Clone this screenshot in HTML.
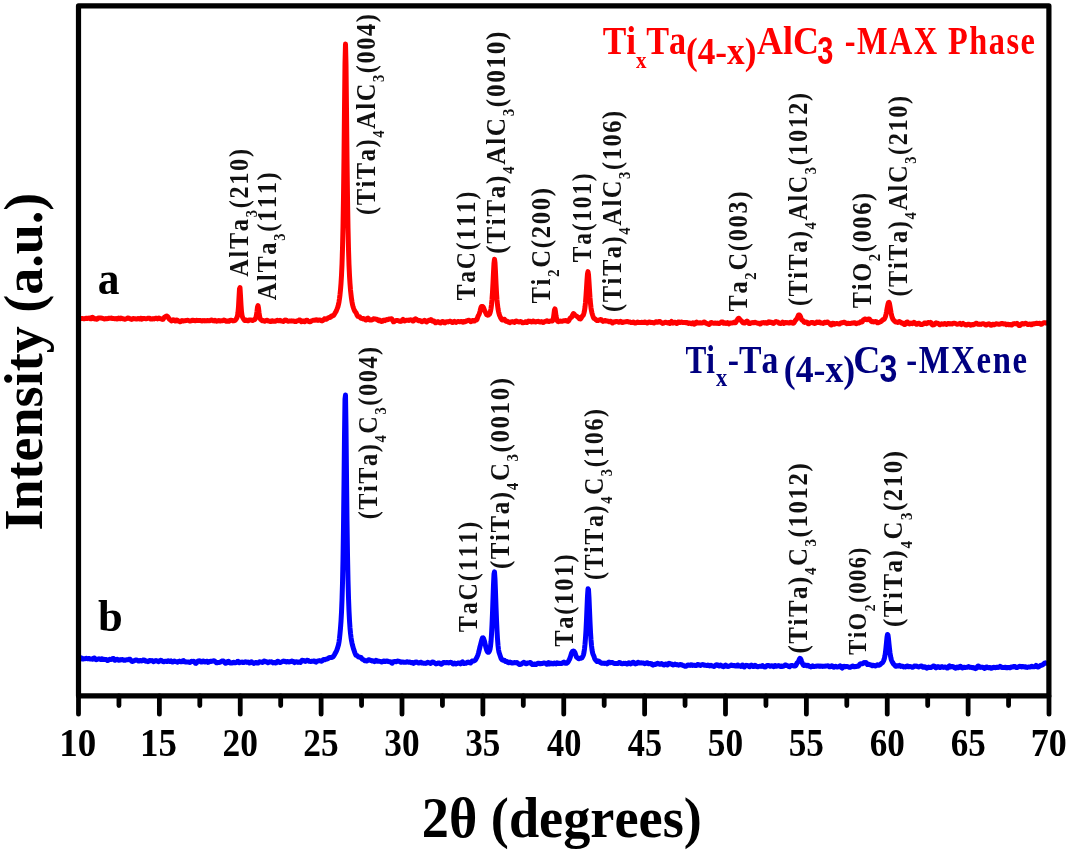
<!DOCTYPE html>
<html><head><meta charset="utf-8"><style>
html,body{margin:0;padding:0;background:#fff;}
svg{display:block;will-change:transform;}
text{font-kerning:none;}
</style></head><body>
<svg width="1068" height="853" viewBox="0 0 1068 853" font-family="&quot;Liberation Serif&quot;, serif" font-weight="bold">
<rect width="1068" height="853" fill="#fff"/>
<path d="M80.0,318.7 L80.5,318.7 81.0,318.5 81.5,318.4 82.0,318.5 82.5,318.6 83.0,318.6 83.5,318.7 84.0,318.7 84.5,318.8 85.0,318.6 85.5,318.5 86.0,318.2 86.5,318.2 87.0,318.3 87.5,318.5 88.0,318.4 88.5,318.2 89.0,318.0 89.5,318.1 90.0,318.4 90.5,318.8 91.0,318.8 91.5,318.2 92.0,317.4 92.5,317.2 93.0,317.6 93.5,318.1 94.0,318.7 94.5,318.9 95.0,319.0 95.5,318.8 96.0,318.9 96.5,319.2 97.0,319.3 97.5,318.8 98.0,318.2 98.5,317.9 99.0,318.0 99.5,318.0 100.0,318.0 100.5,317.9 101.0,318.0 101.5,318.1 102.0,318.3 102.5,318.4 103.0,318.5 103.5,318.6 104.0,318.9 104.5,318.9 105.0,318.9 105.5,318.6 106.0,318.7 106.5,318.6 107.0,318.7 107.5,318.6 108.0,318.6 108.5,318.3 109.0,318.2 109.5,318.2 110.0,318.3 110.5,318.3 111.0,318.1 111.5,318.0 112.0,318.2 112.5,318.5 113.0,318.6 113.5,318.5 114.0,318.5 114.5,318.7 115.0,318.8 115.5,318.8 116.0,318.6 116.5,318.9 117.0,319.0 117.5,318.9 118.0,318.4 118.5,318.1 119.0,318.2 119.5,318.5 120.0,318.7 120.5,318.3 121.0,318.1 121.5,318.2 122.0,318.6 122.5,318.8 123.0,318.8 123.5,318.8 124.0,319.0 124.5,319.2 125.0,319.2 125.5,319.0 126.0,318.9 126.5,318.6 127.0,318.5 127.5,318.1 128.0,318.1 128.5,318.1 129.0,318.2 129.5,318.5 130.0,318.6 130.5,319.0 131.0,319.1 131.5,319.4 132.0,319.3 132.5,318.9 133.0,318.5 133.5,318.5 134.0,318.8 134.5,318.8 135.0,318.7 135.5,318.7 136.0,318.9 136.5,319.1 137.0,318.9 137.5,318.8 138.0,318.5 138.5,318.6 139.0,318.8 139.5,319.0 140.0,318.7 140.5,318.2 141.0,318.2 141.5,318.8 142.0,319.2 142.5,318.9 143.0,318.5 143.5,318.4 144.0,318.4 144.5,318.5 145.0,318.6 145.5,318.8 146.0,318.8 146.5,318.8 147.0,318.6 147.5,318.3 148.0,318.3 148.5,318.2 149.0,318.2 149.5,318.2 150.0,318.5 150.5,319.0 151.0,319.1 151.5,319.1 152.0,318.9 152.5,318.8 153.0,318.9 153.5,318.8 154.0,318.9 154.5,318.7 155.0,318.6 155.5,318.3 156.0,318.2 156.5,318.3 157.0,318.6 157.5,318.9 158.0,318.5 158.5,318.3 159.0,318.0 159.5,318.4 160.0,318.7 160.5,318.7 161.0,318.7 161.5,318.9 162.0,319.3 162.5,319.4 163.0,319.3 163.5,318.5 164.0,317.8 164.5,317.2 165.0,316.9 165.5,316.6 166.0,316.2 166.5,316.1 167.0,316.1 167.5,316.5 168.0,317.0 168.5,317.8 169.0,318.7 169.5,319.5 170.0,319.7 170.5,320.0 171.0,320.4 171.5,320.9 172.0,320.7 172.5,320.3 173.0,319.8 173.5,319.9 174.0,320.0 174.5,320.5 175.0,320.9 175.5,321.1 176.0,320.8 176.5,320.1 177.0,320.1 177.5,320.3 178.0,321.0 178.5,321.0 179.0,321.2 179.5,321.3 180.0,321.7 180.5,321.7 181.0,321.2 181.5,320.9 182.0,320.5 182.5,320.7 183.0,320.7 183.5,321.0 184.0,320.9 184.5,320.8 185.0,320.7 185.5,320.6 186.0,320.6 186.5,320.4 187.0,320.4 187.5,320.3 188.0,320.4 188.5,320.5 189.0,320.7 189.5,320.9 190.0,320.9 190.5,321.0 191.0,320.8 191.5,320.7 192.0,320.3 192.5,320.3 193.0,320.3 193.5,320.4 194.0,320.4 194.5,320.6 195.0,320.8 195.5,320.7 196.0,320.5 196.5,320.3 197.0,320.4 197.5,320.6 198.0,320.6 198.5,320.6 199.0,320.4 199.5,320.4 200.0,320.6 200.5,320.6 201.0,320.8 201.5,320.7 202.0,320.9 202.5,320.7 203.0,320.5 203.5,320.7 204.0,320.8 204.5,320.9 205.0,320.8 205.5,320.8 206.0,320.9 206.5,320.8 207.0,320.8 207.5,320.6 208.0,320.6 208.5,320.8 209.0,320.8 209.5,320.8 210.0,320.5 210.5,320.3 211.0,320.1 211.5,320.0 212.0,320.1 212.5,320.3 213.0,320.7 213.5,320.8 214.0,320.9 214.5,320.7 215.0,320.3 215.5,320.5 216.0,320.7 216.5,321.2 217.0,321.0 217.5,321.0 218.0,320.7 218.5,320.6 219.0,320.6 219.5,320.8 220.0,321.0 220.5,321.0 221.0,320.8 221.5,320.7 222.0,320.7 222.5,320.8 223.0,320.6 223.5,320.3 224.0,320.0 224.5,320.2 225.0,320.5 225.5,321.0 226.0,321.2 226.5,321.3 227.0,321.0 227.5,320.9 228.0,320.9 228.5,321.2 229.0,321.3 229.5,320.9 230.0,320.5 230.5,320.2 231.0,320.2 231.5,320.2 232.0,320.4 232.5,320.6 233.0,320.9 233.5,320.8 234.0,320.7 234.5,320.6 235.0,320.3 235.5,320.0 236.0,319.2 236.5,318.5 237.0,317.4 237.5,315.9 238.0,312.4 238.5,306.6 239.0,297.7 239.5,289.0 240.0,287.7 240.5,295.8 241.0,305.0 241.5,311.7 242.0,315.3 242.5,317.1 243.0,318.0 243.5,318.8 244.0,319.6 244.5,320.3 245.0,320.6 245.5,320.5 246.0,320.3 246.5,320.1 247.0,320.4 247.5,320.7 248.0,320.8 248.5,320.7 249.0,320.1 249.5,320.1 250.0,319.9 250.5,320.1 251.0,319.9 251.5,320.2 252.0,320.4 252.5,320.5 253.0,320.2 253.5,320.0 254.0,319.9 254.5,319.7 255.0,319.2 255.5,318.4 256.0,317.2 256.5,314.8 257.0,311.3 257.5,307.0 258.0,305.6 258.5,308.1 259.0,312.4 259.5,315.9 260.0,318.2 260.5,319.3 261.0,319.7 261.5,320.0 262.0,320.5 262.5,320.8 263.0,320.7 263.5,320.6 264.0,321.0 264.5,321.2 265.0,321.2 265.5,320.7 266.0,320.5 266.5,320.4 267.0,320.3 267.5,320.4 268.0,320.7 268.5,321.1 269.0,321.0 269.5,321.2 270.0,321.3 270.5,321.6 271.0,321.4 271.5,321.2 272.0,320.7 272.5,320.8 273.0,321.0 273.5,321.3 274.0,321.2 274.5,321.1 275.0,321.2 275.5,321.2 276.0,321.0 276.5,320.6 277.0,320.4 277.5,320.3 278.0,320.5 278.5,320.7 279.0,320.7 279.5,320.6 280.0,320.3 280.5,320.6 281.0,320.7 281.5,321.1 282.0,321.0 282.5,321.2 283.0,321.4 283.5,321.5 284.0,321.0 284.5,320.4 285.0,320.0 285.5,320.2 286.0,320.1 286.5,320.4 287.0,320.6 287.5,321.0 288.0,321.2 288.5,321.2 289.0,321.1 289.5,321.0 290.0,320.9 290.5,320.9 291.0,321.0 291.5,321.1 292.0,321.1 292.5,321.0 293.0,321.0 293.5,320.9 294.0,321.2 294.5,321.3 295.0,321.6 295.5,321.5 296.0,321.5 296.5,321.1 297.0,320.9 297.5,320.7 298.0,320.7 298.5,320.5 299.0,320.1 299.5,319.9 300.0,320.1 300.5,320.7 301.0,321.3 301.5,321.7 302.0,321.5 302.5,321.1 303.0,320.9 303.5,321.1 304.0,321.6 304.5,321.8 305.0,321.5 305.5,321.0 306.0,320.5 306.5,320.2 307.0,320.2 307.5,320.5 308.0,321.0 308.5,321.4 309.0,321.6 309.5,321.7 310.0,321.7 310.5,321.6 311.0,321.4 311.5,321.0 312.0,320.7 312.5,320.5 313.0,320.3 313.5,320.3 314.0,320.3 314.5,320.3 315.0,320.2 315.5,319.9 316.0,319.7 316.5,319.7 317.0,320.0 317.5,320.3 318.0,320.4 318.5,320.3 319.0,320.1 319.5,319.9 320.0,319.9 320.5,320.2 321.0,320.6 321.5,320.8 322.0,320.9 322.5,320.6 323.0,320.4 323.5,320.0 324.0,319.4 324.5,318.8 325.0,318.7 325.5,319.0 326.0,319.3 326.5,319.2 327.0,318.9 327.5,318.3 328.0,318.0 328.5,317.6 329.0,317.5 329.5,317.6 330.0,317.5 330.5,317.3 331.0,316.5 331.5,316.2 332.0,315.8 332.5,315.9 333.0,315.7 333.5,315.5 334.0,314.8 334.5,314.0 335.0,313.1 335.5,312.3 336.0,311.6 336.5,310.3 337.0,309.1 337.5,307.8 338.0,306.5 338.5,304.4 339.0,301.9 339.5,298.6 340.0,294.6 340.5,289.7 341.0,283.5 341.5,275.4 342.0,264.3 342.5,248.7 343.0,227.1 343.5,197.4 344.0,157.3 344.5,108.7 345.0,63.3 345.5,44.0 346.0,64.3 346.5,109.9 347.0,158.0 347.5,197.6 348.0,227.4 348.5,249.2 349.0,264.6 349.5,275.7 350.0,283.6 350.5,289.9 351.0,294.6 351.5,298.7 352.0,301.9 352.5,304.6 353.0,306.4 353.5,308.0 354.0,309.4 354.5,310.6 355.0,311.4 355.5,311.9 356.0,312.6 356.5,313.7 357.0,315.0 357.5,315.9 358.0,316.4 358.5,316.5 359.0,316.5 359.5,316.8 360.0,317.2 360.5,317.9 361.0,318.3 361.5,318.4 362.0,318.2 362.5,318.4 363.0,318.7 363.5,319.0 364.0,318.7 364.5,318.7 365.0,319.2 365.5,319.9 366.0,320.1 366.5,319.7 367.0,319.0 367.5,318.2 368.0,318.1 368.5,318.5 369.0,319.2 369.5,319.8 370.0,320.1 370.5,320.1 371.0,320.1 371.5,320.0 372.0,319.9 372.5,319.6 373.0,319.1 373.5,318.8 374.0,318.7 374.5,318.9 375.0,318.9 375.5,319.1 376.0,319.2 376.5,319.3 377.0,319.2 377.5,319.7 378.0,320.2 378.5,320.6 379.0,320.3 379.5,320.0 380.0,320.2 380.5,320.8 381.0,321.4 381.5,321.5 382.0,321.4 382.5,321.3 383.0,320.8 383.5,320.2 384.0,320.1 384.5,320.3 385.0,320.6 385.5,320.2 386.0,319.9 386.5,319.6 387.0,319.8 387.5,319.8 388.0,319.6 388.5,319.3 389.0,319.0 389.5,319.0 390.0,319.0 390.5,318.9 391.0,318.7 391.5,318.8 392.0,319.2 392.5,320.1 393.0,321.0 393.5,321.8 394.0,321.7 394.5,321.5 395.0,320.9 395.5,320.7 396.0,320.5 396.5,320.5 397.0,320.5 397.5,320.5 398.0,320.6 398.5,320.7 399.0,321.1 399.5,321.2 400.0,321.3 400.5,321.4 401.0,321.3 401.5,321.0 402.0,320.4 402.5,319.8 403.0,319.4 403.5,319.8 404.0,320.4 404.5,321.0 405.0,320.9 405.5,320.6 406.0,320.3 406.5,320.3 407.0,320.2 407.5,320.2 408.0,320.3 408.5,320.4 409.0,320.5 409.5,320.0 410.0,320.0 410.5,319.8 411.0,320.0 411.5,319.9 412.0,320.1 412.5,320.5 413.0,321.1 413.5,321.0 414.0,320.4 414.5,319.6 415.0,319.0 415.5,318.8 416.0,319.0 416.5,319.4 417.0,319.8 417.5,320.3 418.0,320.5 418.5,320.7 419.0,320.6 419.5,320.8 420.0,320.6 420.5,320.9 421.0,321.0 421.5,321.6 422.0,321.7 422.5,321.6 423.0,321.2 423.5,320.9 424.0,320.5 424.5,320.3 425.0,320.7 425.5,321.3 426.0,321.8 426.5,322.0 427.0,321.6 427.5,321.3 428.0,320.8 428.5,320.4 429.0,320.3 429.5,320.6 430.0,320.5 430.5,320.1 431.0,319.6 431.5,319.9 432.0,320.6 432.5,321.2 433.0,321.0 433.5,321.0 434.0,321.0 434.5,321.8 435.0,322.2 435.5,322.8 436.0,322.7 436.5,322.5 437.0,321.9 437.5,321.7 438.0,321.6 438.5,321.9 439.0,322.2 439.5,322.7 440.0,322.9 440.5,323.0 441.0,322.6 441.5,322.3 442.0,321.7 442.5,321.4 443.0,321.4 443.5,321.8 444.0,322.5 444.5,322.8 445.0,322.9 445.5,322.5 446.0,322.0 446.5,321.7 447.0,321.7 447.5,321.8 448.0,321.9 448.5,321.7 449.0,321.6 449.5,321.3 450.0,321.4 450.5,321.3 451.0,321.5 451.5,321.7 452.0,322.3 452.5,322.6 453.0,322.6 453.5,322.1 454.0,321.5 454.5,321.3 455.0,321.6 455.5,322.1 456.0,322.4 456.5,322.2 457.0,321.9 457.5,321.6 458.0,321.5 458.5,321.5 459.0,321.6 459.5,321.7 460.0,321.7 460.5,321.6 461.0,321.5 461.5,321.5 462.0,321.6 462.5,322.1 463.0,322.3 463.5,322.1 464.0,321.5 464.5,321.4 465.0,321.7 465.5,321.7 466.0,321.4 466.5,320.9 467.0,320.7 467.5,320.5 468.0,320.5 468.5,320.2 469.0,320.3 469.5,320.5 470.0,321.1 470.5,321.6 471.0,321.7 471.5,321.4 472.0,320.7 472.5,320.5 473.0,320.4 473.5,321.0 474.0,321.1 474.5,321.0 475.0,320.3 475.5,320.1 476.0,320.1 476.5,320.1 477.0,319.4 477.5,317.8 478.0,316.4 478.5,315.3 479.0,314.5 479.5,313.2 480.0,311.3 480.5,309.2 481.0,307.4 481.5,306.5 482.0,306.4 482.5,306.5 483.0,306.8 483.5,307.6 484.0,308.9 484.5,310.3 485.0,311.3 485.5,312.3 486.0,313.3 486.5,314.4 487.0,314.9 487.5,315.2 488.0,315.1 488.5,315.0 489.0,314.6 489.5,314.1 490.0,313.0 490.5,311.3 491.0,308.6 491.5,304.8 492.0,299.4 492.5,292.1 493.0,282.8 493.5,272.4 494.0,263.2 494.5,259.2 495.0,262.9 495.5,272.1 496.0,283.1 496.5,292.6 497.0,299.9 497.5,304.9 498.0,308.8 498.5,311.5 499.0,313.6 499.5,315.2 500.0,316.4 500.5,317.6 501.0,318.4 501.5,319.2 502.0,319.8 502.5,320.1 503.0,320.0 503.5,319.5 504.0,319.2 504.5,319.2 505.0,320.0 505.5,320.8 506.0,321.3 506.5,321.4 507.0,321.2 507.5,321.3 508.0,321.6 508.5,321.9 509.0,322.4 509.5,322.5 510.0,322.7 510.5,322.1 511.0,321.9 511.5,321.7 512.0,321.8 512.5,321.9 513.0,321.8 513.5,322.1 514.0,322.3 514.5,322.5 515.0,322.0 515.5,321.3 516.0,320.9 516.5,320.9 517.0,321.4 517.5,321.6 518.0,321.7 518.5,321.7 519.0,321.9 519.5,321.9 520.0,321.6 520.5,321.5 521.0,321.6 521.5,321.9 522.0,322.3 522.5,322.7 523.0,322.7 523.5,322.7 524.0,322.4 524.5,322.5 525.0,322.2 525.5,321.8 526.0,321.7 526.5,322.0 527.0,322.5 527.5,322.1 528.0,321.7 528.5,321.1 529.0,321.2 529.5,321.2 530.0,321.3 530.5,321.5 531.0,321.9 531.5,322.0 532.0,321.9 532.5,321.3 533.0,321.1 533.5,321.1 534.0,321.5 534.5,321.8 535.0,321.9 535.5,322.0 536.0,321.7 536.5,321.6 537.0,321.5 537.5,321.6 538.0,321.3 538.5,321.4 539.0,321.4 539.5,321.9 540.0,322.0 540.5,321.9 541.0,321.7 541.5,321.6 542.0,321.9 542.5,322.3 543.0,322.5 543.5,322.4 544.0,321.9 544.5,321.6 545.0,321.5 545.5,321.4 546.0,321.2 546.5,320.9 547.0,320.8 547.5,320.9 548.0,321.4 548.5,321.5 549.0,321.6 549.5,321.2 550.0,321.2 550.5,320.9 551.0,320.9 551.5,320.9 552.0,321.1 552.5,320.8 553.0,319.8 553.5,317.6 554.0,313.9 554.5,309.9 555.0,308.9 555.5,312.0 556.0,315.8 556.5,318.6 557.0,320.2 557.5,321.1 558.0,321.5 558.5,321.7 559.0,321.4 559.5,321.3 560.0,321.1 560.5,321.1 561.0,321.2 561.5,321.2 562.0,321.3 562.5,320.9 563.0,320.9 563.5,320.7 564.0,320.7 564.5,320.7 565.0,320.6 565.5,320.6 566.0,320.5 566.5,320.7 567.0,321.1 567.5,321.3 568.0,321.4 568.5,321.0 569.0,320.4 569.5,319.2 570.0,318.4 570.5,317.8 571.0,317.6 571.5,317.2 572.0,316.5 572.5,315.4 573.0,314.2 573.5,313.5 574.0,313.7 574.5,314.5 575.0,315.1 575.5,315.5 576.0,315.7 576.5,316.1 577.0,316.4 577.5,316.8 578.0,317.0 578.5,317.7 579.0,318.2 579.5,318.8 580.0,318.9 580.5,319.0 581.0,318.4 581.5,317.5 582.0,316.6 582.5,316.1 583.0,315.6 583.5,314.6 584.0,312.9 584.5,310.6 585.0,307.2 585.5,302.4 586.0,295.8 586.5,288.2 587.0,280.2 587.5,273.8 588.0,271.6 588.5,274.6 589.0,281.8 589.5,290.0 590.0,297.7 590.5,303.4 591.0,307.8 591.5,310.8 592.0,313.1 592.5,314.8 593.0,316.3 593.5,317.6 594.0,318.4 594.5,318.7 595.0,318.9 595.5,319.3 596.0,319.9 596.5,320.2 597.0,320.6 597.5,320.6 598.0,320.6 598.5,320.2 599.0,320.1 599.5,319.8 600.0,319.9 600.5,319.5 601.0,319.6 601.5,319.7 602.0,320.6 602.5,321.0 603.0,321.4 603.5,321.1 604.0,321.0 604.5,320.7 605.0,320.5 605.5,320.4 606.0,320.9 606.5,321.1 607.0,321.1 607.5,320.9 608.0,321.2 608.5,321.6 609.0,321.7 609.5,321.7 610.0,321.3 610.5,321.3 611.0,321.4 611.5,322.0 612.0,322.6 612.5,323.0 613.0,322.7 613.5,322.2 614.0,321.8 614.5,321.8 615.0,322.0 615.5,321.8 616.0,321.6 616.5,321.4 617.0,321.6 617.5,321.7 618.0,321.8 618.5,322.0 619.0,322.3 619.5,322.1 620.0,321.7 620.5,321.3 621.0,321.5 621.5,321.8 622.0,322.4 622.5,322.4 623.0,322.4 623.5,322.0 624.0,322.0 624.5,322.0 625.0,321.9 625.5,321.8 626.0,321.7 626.5,321.6 627.0,321.5 627.5,321.5 628.0,321.8 628.5,322.0 629.0,322.1 629.5,321.9 630.0,322.0 630.5,322.1 631.0,322.5 631.5,322.5 632.0,322.6 632.5,322.4 633.0,322.3 633.5,322.0 634.0,322.4 634.5,322.8 635.0,323.1 635.5,323.1 636.0,322.8 636.5,322.5 637.0,322.3 637.5,322.1 638.0,322.3 638.5,322.4 639.0,322.6 639.5,322.4 640.0,322.6 640.5,322.6 641.0,322.5 641.5,322.3 642.0,322.3 642.5,322.5 643.0,322.5 643.5,322.5 644.0,322.2 644.5,322.0 645.0,322.0 645.5,322.3 646.0,322.6 646.5,322.8 647.0,323.0 647.5,323.0 648.0,322.8 648.5,322.3 649.0,322.0 649.5,322.0 650.0,322.1 650.5,322.2 651.0,322.5 651.5,322.6 652.0,322.6 652.5,322.5 653.0,322.7 653.5,322.9 654.0,323.0 654.5,322.7 655.0,322.4 655.5,321.9 656.0,321.8 656.5,321.8 657.0,322.3 657.5,322.2 658.0,322.2 658.5,321.7 659.0,321.5 659.5,321.4 660.0,321.6 660.5,322.1 661.0,322.3 661.5,322.8 662.0,323.0 662.5,323.4 663.0,323.3 663.5,323.3 664.0,322.8 664.5,322.6 665.0,322.2 665.5,322.3 666.0,322.2 666.5,322.6 667.0,322.8 667.5,322.9 668.0,322.6 668.5,322.6 669.0,323.0 669.5,323.4 670.0,323.4 670.5,322.6 671.0,322.1 671.5,321.5 672.0,322.0 672.5,322.4 673.0,323.1 673.5,322.8 674.0,322.5 674.5,322.2 675.0,322.3 675.5,322.6 676.0,322.9 676.5,323.4 677.0,323.4 677.5,322.9 678.0,322.1 678.5,321.9 679.0,322.1 679.5,322.6 680.0,322.6 680.5,322.4 681.0,322.1 681.5,322.0 682.0,322.1 682.5,322.4 683.0,322.6 683.5,322.6 684.0,322.5 684.5,322.4 685.0,322.4 685.5,322.5 686.0,322.7 686.5,322.6 687.0,322.5 687.5,322.8 688.0,323.2 688.5,323.4 689.0,323.0 689.5,323.0 690.0,323.0 690.5,323.4 691.0,323.6 691.5,323.7 692.0,323.3 692.5,322.9 693.0,322.8 693.5,323.2 694.0,323.8 694.5,324.2 695.0,323.9 695.5,323.1 696.0,322.4 696.5,322.1 697.0,322.3 697.5,322.6 698.0,323.1 698.5,323.1 699.0,323.0 699.5,322.7 700.0,322.7 700.5,322.8 701.0,323.0 701.5,323.0 702.0,323.0 702.5,322.9 703.0,322.7 703.5,322.3 704.0,322.0 704.5,322.0 705.0,322.5 705.5,322.9 706.0,323.3 706.5,323.4 707.0,323.5 707.5,323.7 708.0,324.1 708.5,324.3 709.0,324.5 709.5,324.2 710.0,323.7 710.5,322.9 711.0,322.5 711.5,322.5 712.0,322.8 712.5,323.1 713.0,323.1 713.5,323.2 714.0,323.1 714.5,323.3 715.0,323.1 715.5,323.0 716.0,323.2 716.5,323.3 717.0,323.4 717.5,323.1 718.0,323.2 718.5,323.3 719.0,323.6 719.5,323.4 720.0,323.1 720.5,322.6 721.0,322.3 721.5,322.0 722.0,321.9 722.5,322.0 723.0,322.7 723.5,323.2 724.0,323.3 724.5,322.9 725.0,322.8 725.5,323.0 726.0,323.5 726.5,323.3 727.0,323.1 727.5,322.7 728.0,323.2 728.5,323.7 729.0,323.9 729.5,323.5 730.0,323.1 730.5,322.9 731.0,323.0 731.5,322.9 732.0,323.0 732.5,322.9 733.0,322.8 733.5,322.4 734.0,322.3 734.5,322.3 735.0,322.7 735.5,322.7 736.0,322.0 736.5,321.1 737.0,320.1 737.5,319.5 738.0,318.8 738.5,318.3 739.0,318.3 739.5,318.9 740.0,319.8 740.5,320.2 741.0,320.5 741.5,320.7 742.0,321.5 742.5,322.2 743.0,322.7 743.5,322.8 744.0,322.9 744.5,323.1 745.0,322.9 745.5,322.6 746.0,321.8 746.5,321.4 747.0,321.1 747.5,321.4 748.0,322.1 748.5,322.9 749.0,323.6 749.5,323.6 750.0,323.5 750.5,323.2 751.0,322.9 751.5,322.8 752.0,322.7 752.5,322.8 753.0,322.5 753.5,322.8 754.0,322.7 754.5,322.6 755.0,322.2 755.5,322.5 756.0,322.6 756.5,322.9 757.0,323.0 757.5,323.2 758.0,323.2 758.5,323.2 759.0,323.3 759.5,323.6 760.0,324.0 760.5,324.0 761.0,323.5 761.5,323.0 762.0,322.7 762.5,322.8 763.0,322.7 763.5,322.5 764.0,322.8 764.5,323.0 765.0,323.1 765.5,322.6 766.0,322.7 766.5,322.9 767.0,323.3 767.5,323.1 768.0,322.7 768.5,322.0 769.0,321.7 769.5,321.9 770.0,322.5 770.5,322.6 771.0,322.5 771.5,322.3 772.0,322.4 772.5,323.0 773.0,323.3 773.5,323.4 774.0,322.9 774.5,322.7 775.0,322.1 775.5,321.7 776.0,321.6 776.5,321.8 777.0,322.0 777.5,321.9 778.0,322.2 778.5,322.6 779.0,323.2 779.5,323.1 780.0,323.4 780.5,323.3 781.0,323.5 781.5,322.9 782.0,322.7 782.5,322.2 783.0,322.8 783.5,323.2 784.0,323.5 784.5,323.0 785.0,322.5 785.5,322.5 786.0,322.5 786.5,322.7 787.0,322.6 787.5,322.8 788.0,322.8 788.5,323.0 789.0,323.1 789.5,323.0 790.0,322.5 790.5,322.2 791.0,322.2 791.5,322.5 792.0,322.8 792.5,323.1 793.0,323.2 793.5,323.2 794.0,322.7 794.5,322.0 795.0,321.0 795.5,320.3 796.0,319.8 796.5,319.2 797.0,318.6 797.5,317.3 798.0,316.2 798.5,315.1 799.0,314.9 799.5,315.1 800.0,315.8 800.5,316.7 801.0,318.1 801.5,319.4 802.0,320.2 802.5,320.4 803.0,320.7 803.5,321.4 804.0,322.1 804.5,322.4 805.0,322.2 805.5,322.1 806.0,322.0 806.5,322.1 807.0,322.2 807.5,322.8 808.0,323.5 808.5,323.8 809.0,323.7 809.5,323.4 810.0,323.1 810.5,322.7 811.0,322.5 811.5,322.6 812.0,322.5 812.5,322.5 813.0,322.5 813.5,323.0 814.0,323.3 814.5,323.5 815.0,323.4 815.5,323.2 816.0,322.7 816.5,322.3 817.0,322.0 817.5,322.2 818.0,322.4 818.5,322.4 819.0,322.1 819.5,322.1 820.0,322.3 820.5,322.9 821.0,323.1 821.5,323.1 822.0,323.1 822.5,323.3 823.0,323.4 823.5,323.2 824.0,322.8 824.5,322.3 825.0,322.3 825.5,322.5 826.0,322.7 826.5,322.4 827.0,322.0 827.5,322.0 828.0,322.3 828.5,322.8 829.0,322.9 829.5,323.4 830.0,323.8 830.5,324.6 831.0,325.1 831.5,325.0 832.0,324.2 832.5,323.3 833.0,323.2 833.5,323.5 834.0,324.2 834.5,324.2 835.0,324.0 835.5,323.7 836.0,323.6 836.5,323.5 837.0,323.5 837.5,323.6 838.0,323.7 838.5,323.9 839.0,324.0 839.5,324.0 840.0,323.6 840.5,323.2 841.0,322.9 841.5,322.8 842.0,322.9 842.5,322.8 843.0,322.6 843.5,322.2 844.0,322.2 844.5,322.3 845.0,322.5 845.5,322.7 846.0,323.2 846.5,323.6 847.0,323.7 847.5,323.4 848.0,323.3 848.5,323.2 849.0,323.5 849.5,323.4 850.0,323.4 850.5,323.5 851.0,323.3 851.5,323.3 852.0,323.0 852.5,323.0 853.0,322.9 853.5,322.9 854.0,322.8 854.5,322.8 855.0,322.8 855.5,323.3 856.0,323.6 856.5,323.7 857.0,323.4 857.5,323.1 858.0,323.1 858.5,323.1 859.0,323.0 859.5,322.9 860.0,322.5 860.5,321.8 861.0,321.5 861.5,321.6 862.0,321.9 862.5,321.4 863.0,320.5 863.5,319.8 864.0,319.6 864.5,319.3 865.0,319.0 865.5,318.9 866.0,319.3 866.5,319.6 867.0,319.7 867.5,319.5 868.0,319.4 868.5,319.0 869.0,318.9 869.5,319.2 870.0,319.9 870.5,320.6 871.0,321.1 871.5,321.5 872.0,321.7 872.5,321.7 873.0,321.6 873.5,321.7 874.0,321.9 874.5,321.8 875.0,321.8 875.5,321.6 876.0,321.6 876.5,321.7 877.0,322.2 877.5,322.8 878.0,322.8 878.5,322.5 879.0,322.2 879.5,322.2 880.0,322.0 880.5,321.8 881.0,321.4 881.5,321.2 882.0,320.6 882.5,320.1 883.0,319.6 883.5,319.6 884.0,319.3 884.5,318.8 885.0,317.7 885.5,316.4 886.0,314.3 886.5,311.9 887.0,309.0 887.5,306.4 888.0,304.0 888.5,302.5 889.0,302.3 889.5,303.7 890.0,306.4 890.5,309.5 891.0,312.5 891.5,314.9 892.0,317.0 892.5,318.3 893.0,319.4 893.5,319.9 894.0,320.5 894.5,321.1 895.0,321.4 895.5,321.9 896.0,321.9 896.5,322.1 897.0,322.1 897.5,322.4 898.0,322.4 898.5,322.0 899.0,321.6 899.5,321.6 900.0,321.8 900.5,322.1 901.0,322.6 901.5,323.0 902.0,323.2 902.5,323.0 903.0,323.1 903.5,323.5 904.0,324.2 904.5,324.6 905.0,324.4 905.5,323.9 906.0,323.0 906.5,322.3 907.0,321.9 907.5,322.0 908.0,322.5 908.5,323.2 909.0,323.8 909.5,323.9 910.0,323.7 910.5,323.3 911.0,323.1 911.5,323.3 912.0,323.5 912.5,323.7 913.0,323.4 913.5,323.0 914.0,322.4 914.5,322.6 915.0,323.1 915.5,323.8 916.0,324.0 916.5,324.3 917.0,324.2 917.5,324.0 918.0,323.5 918.5,323.2 919.0,323.3 919.5,323.7 920.0,324.2 920.5,324.4 921.0,324.6 921.5,324.5 922.0,324.5 922.5,324.1 923.0,324.1 923.5,323.9 924.0,323.6 924.5,323.0 925.0,322.9 925.5,323.0 926.0,323.4 926.5,323.7 927.0,323.5 927.5,323.1 928.0,322.6 928.5,322.6 929.0,322.8 929.5,322.9 930.0,322.6 930.5,322.3 931.0,322.6 931.5,323.6 932.0,324.5 932.5,325.0 933.0,324.7 933.5,324.7 934.0,324.7 934.5,324.5 935.0,323.8 935.5,323.1 936.0,322.8 936.5,323.0 937.0,323.3 937.5,323.4 938.0,323.3 938.5,323.6 939.0,324.1 939.5,324.7 940.0,324.7 940.5,324.3 941.0,324.0 941.5,323.8 942.0,323.9 942.5,324.0 943.0,324.2 943.5,324.2 944.0,323.9 944.5,323.5 945.0,323.5 945.5,323.9 946.0,324.3 946.5,324.5 947.0,324.3 947.5,323.9 948.0,323.5 948.5,323.4 949.0,323.4 949.5,323.7 950.0,323.9 950.5,323.9 951.0,323.8 951.5,323.8 952.0,324.0 952.5,323.7 953.0,323.5 953.5,323.2 954.0,323.3 954.5,323.3 955.0,323.4 955.5,323.5 956.0,323.7 956.5,324.1 957.0,324.2 957.5,324.2 958.0,323.9 958.5,323.9 959.0,323.7 959.5,323.6 960.0,323.4 960.5,323.9 961.0,324.3 961.5,324.6 962.0,324.1 962.5,323.7 963.0,323.4 963.5,323.8 964.0,323.9 964.5,324.3 965.0,324.4 965.5,324.9 966.0,325.0 966.5,325.1 967.0,324.7 967.5,324.4 968.0,324.3 968.5,324.3 969.0,324.2 969.5,324.5 970.0,324.8 970.5,325.3 971.0,325.1 971.5,325.0 972.0,324.6 972.5,324.8 973.0,324.6 973.5,324.7 974.0,324.5 974.5,324.3 975.0,323.9 975.5,323.5 976.0,323.3 976.5,323.2 977.0,323.5 977.5,323.7 978.0,324.2 978.5,324.3 979.0,324.4 979.5,324.1 980.0,324.2 980.5,324.3 981.0,324.4 981.5,324.0 982.0,323.9 982.5,323.7 983.0,323.7 983.5,323.8 984.0,323.9 984.5,324.2 985.0,324.6 985.5,325.1 986.0,325.1 986.5,324.9 987.0,324.3 987.5,324.4 988.0,324.3 988.5,324.3 989.0,323.8 989.5,324.0 990.0,324.2 990.5,325.1 991.0,325.3 991.5,325.3 992.0,324.6 992.5,324.2 993.0,324.3 993.5,324.7 994.0,324.8 994.5,324.7 995.0,324.4 995.5,324.0 996.0,323.8 996.5,323.8 997.0,324.0 997.5,324.0 998.0,324.0 998.5,324.2 999.0,324.3 999.5,324.2 1000.0,324.1 1000.5,323.8 1001.0,323.7 1001.5,323.4 1002.0,323.6 1002.5,323.5 1003.0,323.8 1003.5,323.8 1004.0,324.1 1004.5,324.0 1005.0,323.8 1005.5,324.0 1006.0,324.3 1006.5,324.7 1007.0,324.5 1007.5,324.3 1008.0,324.3 1008.5,324.4 1009.0,324.8 1009.5,324.6 1010.0,324.4 1010.5,324.4 1011.0,324.8 1011.5,325.1 1012.0,325.0 1012.5,324.4 1013.0,324.0 1013.5,323.7 1014.0,323.7 1014.5,323.6 1015.0,323.7 1015.5,323.7 1016.0,323.7 1016.5,323.7 1017.0,323.4 1017.5,323.7 1018.0,324.1 1018.5,325.0 1019.0,325.5 1019.5,325.6 1020.0,325.4 1020.5,324.9 1021.0,324.4 1021.5,323.9 1022.0,323.6 1022.5,323.6 1023.0,323.7 1023.5,323.9 1024.0,323.9 1024.5,323.7 1025.0,323.4 1025.5,323.3 1026.0,323.3 1026.5,323.6 1027.0,323.9 1027.5,324.4 1028.0,324.6 1028.5,324.4 1029.0,324.2 1029.5,324.0 1030.0,324.0 1030.5,324.2 1031.0,324.7 1031.5,324.8 1032.0,324.5 1032.5,323.9 1033.0,323.7 1033.5,323.8 1034.0,324.0 1034.5,323.9 1035.0,323.6 1035.5,323.6 1036.0,323.3 1036.5,323.4 1037.0,323.2 1037.5,323.5 1038.0,323.5 1038.5,323.4 1039.0,323.4 1039.5,323.3 1040.0,323.7 1040.5,323.8 1041.0,324.2 1041.5,324.2 1042.0,324.1 1042.5,323.6 1043.0,323.1 1043.5,322.8 1044.0,322.8 1044.5,322.8 1045.0,322.8 1045.5,323.0 1046.0,323.1 1046.5,323.1 1047.0,322.7 1047.5,322.6" fill="none" stroke="#ff0000" stroke-width="5" stroke-linejoin="round"/>
<path d="M80.0,658.3 L80.5,657.9 81.0,657.8 81.5,658.0 82.0,658.7 82.5,659.0 83.0,659.1 83.5,658.8 84.0,658.8 84.5,658.7 85.0,658.7 85.5,658.5 86.0,658.4 86.5,658.3 87.0,658.6 87.5,658.7 88.0,658.8 88.5,658.5 89.0,658.6 89.5,658.6 90.0,658.9 90.5,659.1 91.0,659.0 91.5,658.9 92.0,659.0 92.5,659.2 93.0,659.1 93.5,658.3 94.0,657.9 94.5,658.0 95.0,658.8 95.5,659.4 96.0,659.7 96.5,659.6 97.0,659.4 97.5,659.3 98.0,659.1 98.5,659.0 99.0,658.8 99.5,659.0 100.0,659.3 100.5,659.5 101.0,659.0 101.5,658.8 102.0,658.8 102.5,659.4 103.0,659.4 103.5,659.5 104.0,659.3 104.5,659.5 105.0,659.4 105.5,659.4 106.0,659.5 106.5,659.8 107.0,660.2 107.5,660.5 108.0,660.5 108.5,660.0 109.0,659.6 109.5,659.3 110.0,659.4 110.5,659.4 111.0,659.5 111.5,659.4 112.0,659.3 112.5,658.7 113.0,658.4 113.5,658.5 114.0,659.5 114.5,660.0 115.0,660.3 115.5,659.9 116.0,659.7 116.5,659.5 117.0,659.3 117.5,659.3 118.0,659.6 118.5,660.2 119.0,660.3 119.5,660.1 120.0,659.8 120.5,659.8 121.0,659.9 121.5,659.8 122.0,659.6 122.5,659.5 123.0,659.7 123.5,660.0 124.0,660.3 124.5,660.2 125.0,660.3 125.5,660.0 126.0,659.9 126.5,659.7 127.0,659.8 127.5,659.8 128.0,659.7 128.5,659.5 129.0,659.3 129.5,659.2 130.0,659.3 130.5,659.8 131.0,660.4 131.5,661.1 132.0,661.4 132.5,661.4 133.0,661.2 133.5,660.8 134.0,660.8 134.5,660.5 135.0,660.5 135.5,660.0 136.0,660.1 136.5,659.9 137.0,660.2 137.5,660.4 138.0,660.7 138.5,661.0 139.0,661.0 139.5,660.7 140.0,660.4 140.5,660.4 141.0,660.7 141.5,660.9 142.0,660.8 142.5,660.5 143.0,660.1 143.5,659.9 144.0,659.9 144.5,660.2 145.0,660.7 145.5,661.1 146.0,661.3 146.5,661.0 147.0,661.1 147.5,661.2 148.0,661.6 148.5,661.3 149.0,661.0 149.5,660.5 150.0,660.5 150.5,660.6 151.0,660.7 151.5,660.7 152.0,660.5 152.5,660.9 153.0,661.0 153.5,661.6 154.0,661.4 154.5,661.3 155.0,660.8 155.5,660.8 156.0,660.6 156.5,660.8 157.0,660.9 157.5,661.2 158.0,661.5 158.5,661.7 159.0,661.5 159.5,661.0 160.0,660.6 160.5,660.3 161.0,660.4 161.5,660.5 162.0,660.9 162.5,661.2 163.0,661.6 163.5,661.8 164.0,661.7 164.5,661.5 165.0,661.2 165.5,661.2 166.0,661.3 166.5,661.5 167.0,661.5 167.5,661.2 168.0,660.8 168.5,660.9 169.0,661.1 169.5,661.6 170.0,661.5 170.5,661.2 171.0,660.9 171.5,661.3 172.0,661.7 172.5,662.1 173.0,662.1 173.5,661.6 174.0,661.3 174.5,661.0 175.0,661.4 175.5,661.5 176.0,661.6 176.5,661.7 177.0,662.0 177.5,662.2 178.0,662.0 178.5,661.5 179.0,661.4 179.5,661.1 180.0,661.4 180.5,661.4 181.0,661.8 181.5,661.8 182.0,661.8 182.5,661.3 183.0,660.7 183.5,660.6 184.0,661.2 184.5,661.8 185.0,661.9 185.5,661.9 186.0,661.8 186.5,662.0 187.0,661.9 187.5,661.9 188.0,661.9 188.5,662.1 189.0,662.3 189.5,662.3 190.0,662.5 190.5,662.0 191.0,661.6 191.5,661.2 192.0,661.5 192.5,661.5 193.0,661.5 193.5,661.2 194.0,661.5 194.5,661.8 195.0,662.5 195.5,663.3 196.0,663.4 196.5,663.0 197.0,662.0 197.5,661.5 198.0,661.0 198.5,661.1 199.0,660.8 199.5,660.9 200.0,661.0 200.5,661.6 201.0,662.0 201.5,662.1 202.0,661.9 202.5,661.3 203.0,660.9 203.5,660.9 204.0,661.4 204.5,661.9 205.0,662.0 205.5,661.9 206.0,661.4 206.5,661.2 207.0,661.3 207.5,661.8 208.0,662.4 208.5,662.3 209.0,661.9 209.5,661.4 210.0,661.4 210.5,661.3 211.0,661.5 211.5,661.3 212.0,661.3 212.5,661.1 213.0,661.1 213.5,660.8 214.0,660.8 214.5,661.0 215.0,661.3 215.5,661.9 216.0,662.4 216.5,662.8 217.0,662.8 217.5,662.5 218.0,662.4 218.5,662.4 219.0,662.5 219.5,662.4 220.0,662.2 220.5,662.0 221.0,661.7 221.5,661.2 222.0,661.0 222.5,660.9 223.0,660.9 223.5,661.1 224.0,661.5 224.5,662.4 225.0,662.9 225.5,663.3 226.0,663.0 226.5,662.9 227.0,662.4 227.5,662.0 228.0,661.4 228.5,661.2 229.0,661.8 229.5,662.6 230.0,663.1 230.5,663.0 231.0,662.8 231.5,662.7 232.0,663.0 232.5,662.9 233.0,662.5 233.5,662.3 234.0,662.3 234.5,662.7 235.0,662.7 235.5,662.7 236.0,662.6 236.5,662.4 237.0,661.9 237.5,661.4 238.0,661.2 238.5,661.7 239.0,662.3 239.5,662.7 240.0,662.5 240.5,662.3 241.0,662.2 241.5,662.1 242.0,662.2 242.5,662.1 243.0,662.5 243.5,662.4 244.0,662.5 244.5,662.3 245.0,661.9 245.5,661.7 246.0,661.9 246.5,662.3 247.0,662.4 247.5,662.3 248.0,662.1 248.5,662.3 249.0,662.7 249.5,663.0 250.0,662.9 250.5,662.3 251.0,661.9 251.5,661.7 252.0,662.3 252.5,662.7 253.0,663.1 253.5,663.2 254.0,663.4 254.5,663.1 255.0,662.8 255.5,662.6 256.0,662.6 256.5,662.6 257.0,663.0 257.5,663.1 258.0,663.1 258.5,662.5 259.0,662.2 259.5,661.8 260.0,661.9 260.5,661.9 261.0,662.0 261.5,662.2 262.0,662.3 262.5,662.5 263.0,662.0 263.5,661.6 264.0,661.0 264.5,661.0 265.0,661.5 265.5,661.8 266.0,661.9 266.5,661.7 267.0,662.0 267.5,662.3 268.0,662.7 268.5,662.5 269.0,662.2 269.5,661.8 270.0,661.9 270.5,661.9 271.0,661.9 271.5,661.8 272.0,662.0 272.5,662.5 273.0,662.9 273.5,662.8 274.0,662.6 274.5,662.4 275.0,662.8 275.5,663.0 276.0,662.9 276.5,662.4 277.0,661.8 277.5,661.3 278.0,661.3 278.5,661.7 279.0,662.1 279.5,662.4 280.0,662.4 280.5,662.4 281.0,662.2 281.5,662.0 282.0,661.8 282.5,661.5 283.0,661.3 283.5,661.1 284.0,661.2 284.5,661.3 285.0,661.3 285.5,661.7 286.0,661.9 286.5,662.0 287.0,661.8 287.5,661.6 288.0,661.6 288.5,661.7 289.0,661.9 289.5,661.7 290.0,661.7 290.5,661.6 291.0,661.4 291.5,661.1 292.0,661.0 292.5,661.2 293.0,661.4 293.5,662.0 294.0,662.2 294.5,662.6 295.0,662.2 295.5,662.0 296.0,661.7 296.5,661.8 297.0,662.1 297.5,662.3 298.0,662.4 298.5,662.3 299.0,661.9 299.5,662.1 300.0,662.2 300.5,662.4 301.0,661.6 301.5,660.9 302.0,660.3 302.5,660.3 303.0,660.5 303.5,660.6 304.0,660.6 304.5,661.0 305.0,661.3 305.5,661.4 306.0,661.0 306.5,660.6 307.0,660.3 307.5,660.2 308.0,660.4 308.5,660.7 309.0,661.2 309.5,661.3 310.0,661.4 310.5,661.4 311.0,661.5 311.5,661.3 312.0,661.2 312.5,661.2 313.0,661.3 313.5,661.1 314.0,661.1 314.5,661.0 315.0,661.7 315.5,661.9 316.0,662.2 316.5,661.6 317.0,661.4 317.5,661.0 318.0,661.0 318.5,660.9 319.0,660.7 319.5,660.6 320.0,660.7 320.5,660.9 321.0,661.1 321.5,661.2 322.0,661.0 322.5,660.5 323.0,659.9 323.5,659.5 324.0,659.5 324.5,659.6 325.0,659.7 325.5,659.5 326.0,659.3 326.5,659.1 327.0,658.9 327.5,658.9 328.0,658.6 328.5,658.2 329.0,657.7 329.5,657.6 330.0,657.6 330.5,657.6 331.0,657.5 331.5,657.3 332.0,657.4 332.5,657.1 333.0,656.8 333.5,656.2 334.0,655.5 334.5,654.7 335.0,653.6 335.5,652.8 336.0,651.8 336.5,651.0 337.0,649.6 337.5,648.1 338.0,646.5 338.5,644.8 339.0,642.1 339.5,638.3 340.0,633.6 340.5,628.1 341.0,621.3 341.5,612.3 342.0,600.1 342.5,583.3 343.0,559.6 343.5,526.8 344.0,484.2 344.5,436.2 345.0,399.0 345.5,395.1 346.0,427.3 346.5,475.5 347.0,520.1 347.5,554.8 348.0,579.8 348.5,597.7 349.0,610.9 349.5,620.6 350.0,627.9 350.5,633.2 351.0,637.3 351.5,640.6 352.0,643.1 352.5,645.3 353.0,647.0 353.5,648.8 354.0,650.2 354.5,651.7 355.0,653.1 355.5,654.4 356.0,655.3 356.5,655.5 357.0,655.5 357.5,655.9 358.0,656.4 358.5,656.9 359.0,657.0 359.5,657.2 360.0,657.3 360.5,657.4 361.0,657.5 361.5,658.2 362.0,658.8 362.5,659.4 363.0,659.5 363.5,659.6 364.0,660.0 364.5,660.5 365.0,660.8 365.5,660.8 366.0,660.9 366.5,661.0 367.0,661.0 367.5,660.5 368.0,660.1 368.5,659.7 369.0,659.8 369.5,659.9 370.0,660.2 370.5,660.3 371.0,660.6 371.5,660.8 372.0,661.0 372.5,660.8 373.0,660.7 373.5,660.9 374.0,661.4 374.5,661.7 375.0,661.4 375.5,660.9 376.0,660.3 376.5,660.5 377.0,660.8 377.5,661.2 378.0,661.2 378.5,661.1 379.0,661.2 379.5,661.2 380.0,661.4 380.5,661.5 381.0,661.9 381.5,662.0 382.0,662.1 382.5,661.6 383.0,661.3 383.5,660.9 384.0,661.1 384.5,661.3 385.0,661.6 385.5,661.4 386.0,661.1 386.5,661.1 387.0,661.3 387.5,661.4 388.0,661.3 388.5,661.4 389.0,661.7 389.5,661.7 390.0,661.7 390.5,661.7 391.0,662.3 391.5,662.8 392.0,663.3 392.5,663.0 393.0,662.4 393.5,661.8 394.0,661.7 394.5,661.5 395.0,661.6 395.5,661.6 396.0,661.8 396.5,661.5 397.0,661.2 397.5,661.0 398.0,661.1 398.5,661.3 399.0,661.4 399.5,661.4 400.0,661.7 400.5,662.0 401.0,662.3 401.5,662.3 402.0,662.1 402.5,661.9 403.0,662.1 403.5,662.3 404.0,662.3 404.5,662.2 405.0,662.2 405.5,662.3 406.0,662.2 406.5,661.9 407.0,661.8 407.5,661.8 408.0,662.0 408.5,662.2 409.0,662.3 409.5,662.1 410.0,662.1 410.5,662.4 411.0,662.7 411.5,662.6 412.0,662.4 412.5,662.5 413.0,663.1 413.5,663.4 414.0,663.1 414.5,662.7 415.0,662.3 415.5,662.2 416.0,662.0 416.5,661.9 417.0,662.2 417.5,662.6 418.0,662.9 418.5,663.0 419.0,663.0 419.5,662.9 420.0,662.6 420.5,662.2 421.0,662.3 421.5,662.7 422.0,663.0 422.5,663.1 423.0,663.1 423.5,663.3 424.0,663.2 424.5,663.3 425.0,663.3 425.5,663.4 426.0,663.3 426.5,663.0 427.0,662.6 427.5,662.3 428.0,662.4 428.5,662.6 429.0,662.7 429.5,662.9 430.0,663.2 430.5,663.4 431.0,663.2 431.5,662.6 432.0,662.2 432.5,661.9 433.0,661.9 433.5,662.3 434.0,662.4 434.5,662.8 435.0,663.1 435.5,663.6 436.0,663.9 436.5,663.8 437.0,663.6 437.5,663.3 438.0,663.1 438.5,662.9 439.0,662.9 439.5,663.1 440.0,663.4 440.5,663.7 441.0,664.2 441.5,664.2 442.0,664.0 442.5,663.2 443.0,662.8 443.5,662.5 444.0,662.6 444.5,662.5 445.0,662.7 445.5,662.8 446.0,662.8 446.5,662.5 447.0,662.4 447.5,662.4 448.0,662.8 448.5,662.9 449.0,662.9 449.5,662.6 450.0,662.5 450.5,662.3 451.0,662.5 451.5,662.5 452.0,663.0 452.5,663.4 453.0,663.9 453.5,663.9 454.0,663.4 454.5,663.1 455.0,663.3 455.5,663.8 456.0,664.0 456.5,663.8 457.0,663.4 457.5,663.2 458.0,663.0 458.5,662.9 459.0,663.0 459.5,663.3 460.0,663.6 460.5,663.9 461.0,663.5 461.5,662.8 462.0,662.0 462.5,661.8 463.0,662.5 463.5,663.2 464.0,663.6 464.5,663.4 465.0,663.3 465.5,663.3 466.0,663.3 466.5,662.9 467.0,662.5 467.5,662.2 468.0,662.1 468.5,662.3 469.0,662.4 469.5,662.8 470.0,662.9 470.5,663.0 471.0,662.6 471.5,661.9 472.0,661.1 472.5,660.9 473.0,661.0 473.5,661.1 474.0,660.7 474.5,660.6 475.0,660.3 475.5,659.9 476.0,659.0 476.5,658.0 477.0,657.1 477.5,655.9 478.0,654.7 478.5,652.9 479.0,650.9 479.5,648.8 480.0,646.7 480.5,644.8 481.0,642.9 481.5,641.0 482.0,639.1 482.5,637.9 483.0,637.7 483.5,638.4 484.0,639.9 484.5,641.4 485.0,643.6 485.5,645.6 486.0,647.9 486.5,649.6 487.0,651.0 487.5,651.8 488.0,652.2 488.5,652.2 489.0,651.8 489.5,650.9 490.0,649.2 490.5,646.4 491.0,641.6 491.5,634.6 492.0,624.9 492.5,613.0 493.0,598.7 493.5,584.7 494.0,574.1 494.5,571.9 495.0,579.1 495.5,592.1 496.0,606.7 496.5,619.6 497.0,630.4 497.5,638.8 498.0,645.2 498.5,649.6 499.0,652.2 499.5,653.7 500.0,655.2 500.5,656.7 501.0,658.2 501.5,659.1 502.0,659.7 502.5,660.1 503.0,660.2 503.5,660.1 504.0,660.2 504.5,660.4 505.0,661.1 505.5,661.5 506.0,661.6 506.5,661.4 507.0,661.6 507.5,662.2 508.0,662.5 508.5,662.7 509.0,662.3 509.5,662.2 510.0,662.1 510.5,662.4 511.0,662.6 511.5,663.1 512.0,663.1 512.5,663.0 513.0,662.7 513.5,662.8 514.0,662.7 514.5,662.5 515.0,662.5 515.5,662.7 516.0,662.8 516.5,662.6 517.0,662.5 517.5,663.0 518.0,663.4 518.5,664.1 519.0,664.1 519.5,664.5 520.0,664.5 520.5,664.4 521.0,664.2 521.5,663.8 522.0,663.6 522.5,663.1 523.0,662.8 523.5,662.4 524.0,662.3 524.5,662.6 525.0,663.1 525.5,663.6 526.0,663.8 526.5,663.7 527.0,663.3 527.5,663.0 528.0,662.9 528.5,663.1 529.0,663.1 529.5,662.9 530.0,662.5 530.5,662.4 531.0,662.9 531.5,663.7 532.0,664.4 532.5,664.6 533.0,664.6 533.5,664.3 534.0,664.1 534.5,664.0 535.0,664.3 535.5,664.6 536.0,664.6 536.5,664.2 537.0,663.6 537.5,663.5 538.0,663.3 538.5,663.2 539.0,663.2 539.5,663.5 540.0,663.8 540.5,663.8 541.0,663.5 541.5,663.4 542.0,663.4 542.5,663.4 543.0,663.2 543.5,663.0 544.0,662.9 544.5,663.0 545.0,663.2 545.5,663.2 546.0,663.6 546.5,664.2 547.0,664.3 547.5,663.6 548.0,662.7 548.5,662.6 549.0,663.1 549.5,663.9 550.0,663.9 550.5,663.6 551.0,663.1 551.5,663.2 552.0,663.5 552.5,663.8 553.0,663.9 553.5,663.5 554.0,663.3 554.5,663.0 555.0,663.5 555.5,663.8 556.0,663.9 556.5,663.4 557.0,662.9 557.5,663.1 558.0,663.3 558.5,663.5 559.0,663.2 559.5,663.2 560.0,663.5 560.5,663.5 561.0,663.5 561.5,663.2 562.0,663.4 562.5,663.1 563.0,662.9 563.5,662.3 564.0,662.1 564.5,662.4 565.0,662.9 565.5,663.3 566.0,663.2 566.5,663.3 567.0,663.0 567.5,662.9 568.0,662.0 568.5,661.3 569.0,660.1 569.5,659.3 570.0,658.0 570.5,656.7 571.0,654.9 571.5,653.3 572.0,652.1 572.5,651.4 573.0,651.1 573.5,651.0 574.0,651.2 574.5,651.9 575.0,652.8 575.5,654.3 576.0,655.7 576.5,657.0 577.0,657.5 577.5,657.9 578.0,658.2 578.5,658.7 579.0,658.7 579.5,658.6 580.0,658.2 580.5,658.1 581.0,658.2 581.5,658.1 582.0,657.7 582.5,656.8 583.0,656.0 583.5,654.6 584.0,652.4 584.5,648.8 585.0,644.2 585.5,638.0 586.0,630.1 586.5,619.9 587.0,607.8 587.5,596.1 588.0,588.8 588.5,589.6 589.0,597.8 589.5,609.8 590.0,621.9 590.5,632.1 591.0,639.9 591.5,645.5 592.0,649.8 592.5,652.6 593.0,654.2 593.5,655.3 594.0,656.5 594.5,658.1 595.0,659.2 595.5,660.0 596.0,660.4 596.5,661.1 597.0,661.5 597.5,661.4 598.0,661.1 598.5,660.9 599.0,661.3 599.5,661.6 600.0,662.3 600.5,662.8 601.0,663.0 601.5,663.2 602.0,663.1 602.5,663.2 603.0,663.1 603.5,663.2 604.0,663.2 604.5,663.4 605.0,663.3 605.5,663.2 606.0,663.3 606.5,663.6 607.0,663.9 607.5,663.6 608.0,663.0 608.5,662.2 609.0,662.1 609.5,662.2 610.0,662.6 610.5,662.7 611.0,662.5 611.5,662.4 612.0,662.4 612.5,662.6 613.0,662.8 613.5,663.1 614.0,663.4 614.5,663.5 615.0,663.6 615.5,663.5 616.0,663.6 616.5,663.4 617.0,663.6 617.5,663.6 618.0,663.4 618.5,663.0 619.0,662.6 619.5,662.4 620.0,662.7 620.5,663.0 621.0,663.5 621.5,663.6 622.0,663.8 622.5,663.7 623.0,663.6 623.5,663.3 624.0,663.4 624.5,663.4 625.0,663.5 625.5,663.2 626.0,663.4 626.5,663.7 627.0,664.1 627.5,664.1 628.0,663.6 628.5,662.9 629.0,662.8 629.5,663.0 630.0,663.6 630.5,663.9 631.0,663.7 631.5,663.3 632.0,662.8 632.5,662.5 633.0,662.3 633.5,662.3 634.0,662.8 634.5,663.4 635.0,663.8 635.5,663.9 636.0,663.6 636.5,663.6 637.0,663.2 637.5,662.8 638.0,662.3 638.5,662.4 639.0,662.7 639.5,663.1 640.0,663.1 640.5,663.0 641.0,662.8 641.5,662.9 642.0,662.9 642.5,663.1 643.0,662.9 643.5,663.1 644.0,663.4 644.5,663.7 645.0,663.6 645.5,663.4 646.0,663.2 646.5,662.9 647.0,662.8 647.5,662.8 648.0,663.3 648.5,663.7 649.0,663.8 649.5,663.6 650.0,663.4 650.5,663.4 651.0,663.7 651.5,663.8 652.0,664.5 652.5,664.8 653.0,665.1 653.5,664.8 654.0,664.5 654.5,664.3 655.0,664.3 655.5,664.4 656.0,664.2 656.5,663.8 657.0,663.5 657.5,663.3 658.0,663.4 658.5,663.7 659.0,664.0 659.5,664.2 660.0,664.3 660.5,664.0 661.0,663.9 661.5,663.5 662.0,663.7 662.5,664.1 663.0,664.7 663.5,664.9 664.0,665.0 664.5,664.7 665.0,664.6 665.5,664.0 666.0,664.0 666.5,664.2 667.0,664.9 667.5,665.0 668.0,664.4 668.5,663.6 669.0,663.2 669.5,663.4 670.0,663.8 670.5,664.0 671.0,663.9 671.5,664.0 672.0,664.4 672.5,664.8 673.0,665.0 673.5,664.9 674.0,664.6 674.5,664.3 675.0,664.1 675.5,664.5 676.0,664.6 676.5,664.8 677.0,664.6 677.5,664.8 678.0,664.9 678.5,665.2 679.0,665.0 679.5,664.7 680.0,664.5 680.5,664.6 681.0,664.6 681.5,664.7 682.0,665.0 682.5,665.3 683.0,665.5 683.5,665.5 684.0,665.8 684.5,666.0 685.0,666.3 685.5,666.3 686.0,666.2 686.5,666.0 687.0,665.7 687.5,665.2 688.0,664.9 688.5,664.9 689.0,665.2 689.5,665.3 690.0,665.4 690.5,664.9 691.0,664.8 691.5,664.9 692.0,665.1 692.5,665.4 693.0,665.2 693.5,665.2 694.0,665.2 694.5,665.3 695.0,665.5 695.5,665.6 696.0,665.6 696.5,665.4 697.0,665.1 697.5,664.6 698.0,664.4 698.5,664.7 699.0,664.9 699.5,665.1 700.0,665.2 700.5,665.4 701.0,665.2 701.5,665.0 702.0,664.7 702.5,664.6 703.0,664.6 703.5,664.7 704.0,664.9 704.5,665.3 705.0,665.3 705.5,665.3 706.0,665.4 706.5,665.4 707.0,665.6 707.5,665.3 708.0,665.1 708.5,665.2 709.0,665.5 709.5,665.9 710.0,665.6 710.5,665.4 711.0,665.2 711.5,665.6 712.0,665.9 712.5,666.0 713.0,666.1 713.5,666.3 714.0,666.5 714.5,666.3 715.0,665.9 715.5,665.3 716.0,664.9 716.5,664.7 717.0,664.7 717.5,664.9 718.0,665.4 718.5,665.8 719.0,666.0 719.5,665.7 720.0,665.4 720.5,665.0 721.0,665.2 721.5,665.6 722.0,666.2 722.5,666.4 723.0,666.5 723.5,666.7 724.0,666.5 724.5,666.1 725.0,665.4 725.5,665.1 726.0,665.3 726.5,665.9 727.0,666.3 727.5,666.4 728.0,666.5 728.5,666.3 729.0,666.2 729.5,665.9 730.0,665.8 730.5,665.4 731.0,665.3 731.5,665.0 732.0,665.4 732.5,665.4 733.0,665.7 733.5,665.5 734.0,665.6 734.5,665.6 735.0,665.7 735.5,666.1 736.0,666.1 736.5,666.1 737.0,665.3 737.5,665.1 738.0,665.1 738.5,665.7 739.0,666.1 739.5,666.1 740.0,666.0 740.5,666.2 741.0,666.4 741.5,666.1 742.0,665.3 742.5,665.0 743.0,665.3 743.5,666.5 744.0,667.0 744.5,667.0 745.0,666.2 745.5,665.6 746.0,665.3 746.5,665.5 747.0,665.5 747.5,665.5 748.0,665.6 748.5,666.1 749.0,666.6 749.5,666.8 750.0,666.4 750.5,665.8 751.0,665.2 751.5,665.1 752.0,665.4 752.5,666.1 753.0,666.5 753.5,666.6 754.0,666.2 754.5,665.8 755.0,665.3 755.5,665.5 756.0,665.8 756.5,666.4 757.0,666.6 757.5,666.7 758.0,666.7 758.5,666.5 759.0,666.4 759.5,666.2 760.0,666.2 760.5,666.3 761.0,666.4 761.5,666.1 762.0,665.7 762.5,665.5 763.0,666.1 763.5,666.4 764.0,666.8 764.5,666.8 765.0,667.0 765.5,666.9 766.0,666.4 766.5,666.0 767.0,665.5 767.5,665.5 768.0,665.5 768.5,665.6 769.0,665.6 769.5,665.7 770.0,666.2 770.5,666.3 771.0,666.1 771.5,665.7 772.0,665.7 772.5,665.9 773.0,666.4 773.5,666.7 774.0,666.6 774.5,666.1 775.0,665.6 775.5,665.6 776.0,665.9 776.5,666.3 777.0,666.1 777.5,665.9 778.0,665.7 778.5,665.6 779.0,665.7 779.5,666.0 780.0,666.4 780.5,666.5 781.0,666.2 781.5,666.0 782.0,666.0 782.5,666.4 783.0,666.3 783.5,666.3 784.0,665.8 784.5,665.6 785.0,665.0 785.5,665.1 786.0,665.1 786.5,665.6 787.0,665.6 787.5,665.8 788.0,665.9 788.5,666.3 789.0,666.6 789.5,666.8 790.0,666.2 790.5,665.8 791.0,665.4 791.5,665.6 792.0,665.4 792.5,665.5 793.0,665.7 793.5,665.9 794.0,666.0 794.5,665.8 795.0,666.0 795.5,665.9 796.0,665.2 796.5,664.2 797.0,663.0 797.5,662.6 798.0,662.0 798.5,661.5 799.0,660.1 799.5,659.0 800.0,658.3 800.5,658.8 801.0,659.7 801.5,661.1 802.0,662.4 802.5,663.7 803.0,664.5 803.5,665.2 804.0,665.5 804.5,665.4 805.0,665.2 805.5,665.0 806.0,665.4 806.5,665.7 807.0,665.8 807.5,665.4 808.0,665.3 808.5,665.7 809.0,666.2 809.5,666.4 810.0,666.5 810.5,666.7 811.0,666.9 811.5,666.6 812.0,666.1 812.5,665.8 813.0,666.0 813.5,666.4 814.0,666.6 814.5,666.5 815.0,666.4 815.5,666.3 816.0,666.3 816.5,666.2 817.0,666.1 817.5,665.9 818.0,665.9 818.5,666.0 819.0,666.2 819.5,666.3 820.0,666.4 820.5,666.3 821.0,666.1 821.5,666.3 822.0,666.3 822.5,666.4 823.0,666.2 823.5,666.2 824.0,666.3 824.5,666.3 825.0,666.2 825.5,666.0 826.0,666.0 826.5,665.9 827.0,665.9 827.5,665.9 828.0,665.8 828.5,666.0 829.0,666.3 829.5,666.7 830.0,666.7 830.5,666.5 831.0,666.1 831.5,665.8 832.0,665.8 832.5,666.2 833.0,666.8 833.5,667.1 834.0,667.2 834.5,666.6 835.0,666.4 835.5,666.2 836.0,666.5 836.5,666.7 837.0,666.9 837.5,666.9 838.0,666.9 838.5,666.8 839.0,666.5 839.5,666.1 840.0,665.8 840.5,665.9 841.0,666.7 841.5,667.6 842.0,668.1 842.5,667.9 843.0,667.0 843.5,666.4 844.0,666.2 844.5,666.5 845.0,666.7 845.5,666.7 846.0,666.6 846.5,666.4 847.0,666.5 847.5,666.6 848.0,666.8 848.5,667.0 849.0,667.2 849.5,667.3 850.0,667.4 850.5,667.1 851.0,667.0 851.5,666.5 852.0,666.3 852.5,666.1 853.0,666.1 853.5,666.5 854.0,666.7 854.5,666.8 855.0,666.5 855.5,666.5 856.0,666.4 856.5,666.4 857.0,666.2 857.5,666.1 858.0,666.2 858.5,666.1 859.0,665.5 859.5,664.6 860.0,664.0 860.5,663.8 861.0,663.8 861.5,663.7 862.0,663.7 862.5,663.7 863.0,663.5 863.5,663.1 864.0,662.6 864.5,662.6 865.0,662.7 865.5,662.6 866.0,662.5 866.5,663.0 867.0,663.8 867.5,664.6 868.0,664.6 868.5,664.4 869.0,664.3 869.5,664.5 870.0,664.8 870.5,664.7 871.0,664.9 871.5,664.9 872.0,665.7 872.5,665.7 873.0,665.5 873.5,665.2 874.0,665.4 874.5,665.8 875.0,665.9 875.5,665.9 876.0,665.7 876.5,665.4 877.0,664.9 877.5,664.8 878.0,665.1 878.5,665.3 879.0,665.2 879.5,665.0 880.0,664.7 880.5,664.3 881.0,663.8 881.5,663.4 882.0,663.0 882.5,662.6 883.0,662.0 883.5,661.0 884.0,659.7 884.5,658.0 885.0,655.5 885.5,652.2 886.0,647.6 886.5,642.6 887.0,637.3 887.5,634.5 888.0,635.0 888.5,638.9 889.0,643.9 889.5,648.7 890.0,652.9 890.5,656.1 891.0,658.5 891.5,660.2 892.0,661.3 892.5,662.3 893.0,663.1 893.5,664.1 894.0,664.6 894.5,665.1 895.0,665.6 895.5,666.2 896.0,666.3 896.5,666.0 897.0,665.7 897.5,665.8 898.0,666.1 898.5,666.0 899.0,665.7 899.5,665.4 900.0,665.8 900.5,666.2 901.0,666.4 901.5,666.3 902.0,666.1 902.5,666.2 903.0,666.5 903.5,666.9 904.0,666.9 904.5,666.8 905.0,666.8 905.5,667.0 906.0,666.8 906.5,666.4 907.0,665.9 907.5,666.0 908.0,666.4 908.5,666.8 909.0,666.7 909.5,666.6 910.0,666.5 910.5,666.6 911.0,666.7 911.5,666.9 912.0,667.2 912.5,667.3 913.0,667.3 913.5,666.8 914.0,666.3 914.5,666.0 915.0,666.0 915.5,666.1 916.0,666.2 916.5,666.1 917.0,666.3 917.5,666.5 918.0,666.8 918.5,667.0 919.0,666.9 919.5,666.6 920.0,666.3 920.5,666.3 921.0,666.0 921.5,666.0 922.0,666.1 922.5,666.8 923.0,667.2 923.5,667.3 924.0,667.0 924.5,666.8 925.0,666.8 925.5,667.2 926.0,667.7 926.5,668.1 927.0,668.2 927.5,667.9 928.0,667.4 928.5,667.1 929.0,667.2 929.5,667.4 930.0,667.6 930.5,667.6 931.0,667.5 931.5,667.1 932.0,666.9 932.5,666.6 933.0,666.3 933.5,666.0 934.0,665.9 934.5,666.3 935.0,666.9 935.5,667.6 936.0,667.9 936.5,667.6 937.0,667.2 937.5,666.7 938.0,666.6 938.5,666.7 939.0,666.9 939.5,667.4 940.0,667.6 940.5,667.6 941.0,667.1 941.5,666.7 942.0,666.6 942.5,666.9 943.0,667.3 943.5,667.4 944.0,667.3 944.5,667.1 945.0,667.1 945.5,667.1 946.0,667.3 946.5,667.7 947.0,668.0 947.5,668.0 948.0,667.7 948.5,667.0 949.0,666.1 949.5,665.9 950.0,666.4 950.5,667.0 951.0,666.9 951.5,666.6 952.0,666.4 952.5,666.6 953.0,666.6 953.5,666.9 954.0,667.0 954.5,667.8 955.0,668.0 955.5,668.2 956.0,667.4 956.5,667.2 957.0,667.0 957.5,667.5 958.0,667.7 958.5,667.7 959.0,667.2 959.5,666.7 960.0,666.4 960.5,666.3 961.0,666.7 961.5,667.3 962.0,667.9 962.5,668.0 963.0,667.8 963.5,667.4 964.0,667.3 964.5,667.2 965.0,667.5 965.5,667.5 966.0,667.4 966.5,667.2 967.0,667.2 967.5,667.2 968.0,667.0 968.5,666.6 969.0,666.8 969.5,667.1 970.0,667.4 970.5,667.3 971.0,667.2 971.5,667.4 972.0,667.6 972.5,667.7 973.0,667.5 973.5,667.6 974.0,667.8 974.5,668.2 975.0,668.3 975.5,668.6 976.0,668.3 976.5,668.0 977.0,667.2 977.5,666.5 978.0,666.0 978.5,666.0 979.0,666.5 979.5,667.2 980.0,667.3 980.5,667.4 981.0,667.1 981.5,667.2 982.0,667.2 982.5,667.4 983.0,667.3 983.5,667.6 984.0,667.9 984.5,668.4 985.0,668.2 985.5,667.8 986.0,667.2 986.5,666.9 987.0,667.0 987.5,667.2 988.0,667.6 988.5,667.7 989.0,667.7 989.5,667.4 990.0,667.4 990.5,667.7 991.0,668.2 991.5,668.3 992.0,668.1 992.5,667.8 993.0,667.5 993.5,667.4 994.0,667.3 994.5,667.5 995.0,667.6 995.5,667.7 996.0,667.4 996.5,667.3 997.0,667.2 997.5,667.4 998.0,667.3 998.5,667.4 999.0,667.1 999.5,666.9 1000.0,666.4 1000.5,666.6 1001.0,666.8 1001.5,667.4 1002.0,667.5 1002.5,667.6 1003.0,667.5 1003.5,667.5 1004.0,667.5 1004.5,667.5 1005.0,667.2 1005.5,667.3 1006.0,667.4 1006.5,667.8 1007.0,667.8 1007.5,667.7 1008.0,667.5 1008.5,667.4 1009.0,667.5 1009.5,667.7 1010.0,667.8 1010.5,667.5 1011.0,667.0 1011.5,667.0 1012.0,667.1 1012.5,667.0 1013.0,666.7 1013.5,666.5 1014.0,666.4 1014.5,666.4 1015.0,666.6 1015.5,667.0 1016.0,667.5 1016.5,667.5 1017.0,667.5 1017.5,667.2 1018.0,667.1 1018.5,666.8 1019.0,666.6 1019.5,666.4 1020.0,666.3 1020.5,666.6 1021.0,666.8 1021.5,666.9 1022.0,666.7 1022.5,666.5 1023.0,666.5 1023.5,666.8 1024.0,666.9 1024.5,666.8 1025.0,666.7 1025.5,666.8 1026.0,667.2 1026.5,667.3 1027.0,667.4 1027.5,667.2 1028.0,667.1 1028.5,667.0 1029.0,666.9 1029.5,667.0 1030.0,666.9 1030.5,666.9 1031.0,666.6 1031.5,666.4 1032.0,666.3 1032.5,666.7 1033.0,666.8 1033.5,666.7 1034.0,666.6 1034.5,666.7 1035.0,666.5 1035.5,665.9 1036.0,665.4 1036.5,665.7 1037.0,666.4 1037.5,667.0 1038.0,667.1 1038.5,666.8 1039.0,666.5 1039.5,666.1 1040.0,665.8 1040.5,665.5 1041.0,665.4 1041.5,665.3 1042.0,665.1 1042.5,664.8 1043.0,664.5 1043.5,664.1 1044.0,663.6 1044.5,663.2 1045.0,662.9 1045.5,663.1 1046.0,663.2 1046.5,663.0 1047.0,662.4 1047.5,662.0" fill="none" stroke="#0000ff" stroke-width="5" stroke-linejoin="round"/>
<rect x="78.5" y="5.9" width="970.4" height="689.9" fill="none" stroke="#000" stroke-width="5.2" stroke-linejoin="round"/>
<path d="M78.50,696 V714.2 M118.94,696 V705.6 M159.38,696 V714.2 M199.81,696 V705.6 M240.25,696 V714.2 M280.69,696 V705.6 M321.12,696 V714.2 M361.56,696 V705.6 M402.00,696 V714.2 M442.44,696 V705.6 M482.88,696 V714.2 M523.31,696 V705.6 M563.75,696 V714.2 M604.19,696 V705.6 M644.62,696 V714.2 M685.06,696 V705.6 M725.50,696 V714.2 M765.94,696 V705.6 M806.38,696 V714.2 M846.81,696 V705.6 M887.25,696 V714.2 M927.69,696 V705.6 M968.12,696 V714.2 M1008.56,696 V705.6 M1049.00,696 V714.2" stroke="#000" stroke-width="4.8" fill="none" stroke-linecap="round"/>
<text transform="translate(59.24,755.90) scale(0.9242,1)" font-size="40" fill="#000" font-family="&quot;Liberation Serif&quot;, serif"><tspan>10</tspan></text>
<text transform="translate(140.12,755.90) scale(0.9227,1)" font-size="40" fill="#000" font-family="&quot;Liberation Serif&quot;, serif"><tspan>15</tspan></text>
<text transform="translate(222.46,755.90) scale(0.8859,1)" font-size="40" fill="#000" font-family="&quot;Liberation Serif&quot;, serif"><tspan>20</tspan></text>
<text transform="translate(303.34,755.90) scale(0.8845,1)" font-size="40" fill="#000" font-family="&quot;Liberation Serif&quot;, serif"><tspan>25</tspan></text>
<text transform="translate(384.37,755.90) scale(0.8817,1)" font-size="40" fill="#000" font-family="&quot;Liberation Serif&quot;, serif"><tspan>30</tspan></text>
<text transform="translate(465.25,755.90) scale(0.8803,1)" font-size="40" fill="#000" font-family="&quot;Liberation Serif&quot;, serif"><tspan>35</tspan></text>
<text transform="translate(546.98,755.90) scale(0.8595,1)" font-size="40" fill="#000" font-family="&quot;Liberation Serif&quot;, serif"><tspan>40</tspan></text>
<text transform="translate(627.86,755.90) scale(0.8582,1)" font-size="40" fill="#000" font-family="&quot;Liberation Serif&quot;, serif"><tspan>45</tspan></text>
<text transform="translate(707.78,755.90) scale(0.8841,1)" font-size="40" fill="#000" font-family="&quot;Liberation Serif&quot;, serif"><tspan>50</tspan></text>
<text transform="translate(788.66,755.90) scale(0.8827,1)" font-size="40" fill="#000" font-family="&quot;Liberation Serif&quot;, serif"><tspan>55</tspan></text>
<text transform="translate(869.75,755.90) scale(0.8785,1)" font-size="40" fill="#000" font-family="&quot;Liberation Serif&quot;, serif"><tspan>60</tspan></text>
<text transform="translate(950.63,755.90) scale(0.8771,1)" font-size="40" fill="#000" font-family="&quot;Liberation Serif&quot;, serif"><tspan>65</tspan></text>
<text transform="translate(1030.64,755.90) scale(0.9008,1)" font-size="40" fill="#000" font-family="&quot;Liberation Serif&quot;, serif"><tspan>70</tspan></text>
<text transform="translate(421.72,837.40) scale(0.9702,1)" font-size="56" fill="#000" font-family="&quot;Liberation Serif&quot;, serif"><tspan>2θ (degrees)</tspan></text>
<text transform="translate(42.07,530.52) rotate(-90) scale(0.9776,1)" font-size="55.3" fill="#000"><tspan>Intensity (a.u.)</tspan></text>
<text transform="translate(97.70,294.00) scale(0.9260,1)" font-size="47" fill="#000" font-family="&quot;Liberation Serif&quot;, serif"><tspan>a</tspan></text>
<text transform="translate(98.03,631.30) scale(0.9898,1)" font-size="45" fill="#000" font-family="&quot;Liberation Serif&quot;, serif"><tspan>b</tspan></text>
<text transform="translate(602.75,54.20) scale(0.8829,1)" font-size="40" fill="#ff0000" font-family="&quot;Liberation Serif&quot;, serif"><tspan>Ti</tspan></text>
<text transform="translate(635.92,68.20) scale(0.8746,1)" font-size="24" fill="#ff0000" font-family="&quot;Liberation Serif&quot;, serif"><tspan>x</tspan></text>
<text transform="translate(646.27,54.20) scale(0.8559,1)" font-size="40" fill="#ff0000" font-family="&quot;Liberation Serif&quot;, serif"><tspan>Ta</tspan></text>
<text transform="translate(685.95,63.80) scale(0.9532,1)" font-size="37" fill="#ff0000" font-family="&quot;Liberation Serif&quot;, serif"><tspan>(4-x)</tspan></text>
<text transform="translate(757.05,54.20) scale(0.8984,1)" font-size="40" fill="#ff0000" font-family="&quot;Liberation Serif&quot;, serif"><tspan>AlC</tspan></text>
<text transform="translate(817.34,63.80) scale(0.7624,1)" font-size="38" fill="#ff0000" font-family="&quot;Liberation Sans&quot;, sans-serif"><tspan>3</tspan></text>
<text transform="translate(844.72,54.20) scale(0.8086,1)" font-size="40" fill="#ff0000" font-family="&quot;Liberation Serif&quot;, serif" letter-spacing="1.809"><tspan>-MAX Phase</tspan></text>
<text transform="translate(685.41,372.90) scale(0.7818,1)" font-size="40" fill="#000080" font-family="&quot;Liberation Serif&quot;, serif"><tspan>Ti</tspan></text>
<text transform="translate(716.11,385.50) scale(0.8966,1)" font-size="25" fill="#000080" font-family="&quot;Liberation Serif&quot;, serif"><tspan>x</tspan></text>
<text transform="translate(727.66,372.90) scale(0.8441,1)" font-size="40" fill="#000080" font-family="&quot;Liberation Serif&quot;, serif"><tspan>-Ta</tspan></text>
<text transform="translate(783.73,382.10) scale(0.9659,1)" font-size="37" fill="#000080" font-family="&quot;Liberation Serif&quot;, serif"><tspan>(4-x)</tspan></text>
<text transform="translate(853.16,372.90) scale(0.9419,1)" font-size="40" fill="#000080" font-family="&quot;Liberation Serif&quot;, serif"><tspan>C</tspan></text>
<text transform="translate(879.57,382.10) scale(0.8418,1)" font-size="38" fill="#000080" font-family="&quot;Liberation Sans&quot;, sans-serif"><tspan>3</tspan></text>
<text transform="translate(906.20,372.90) scale(0.8178,1)" font-size="40" fill="#000080" font-family="&quot;Liberation Serif&quot;, serif" letter-spacing="2.035"><tspan>-MXene</tspan></text>
<text transform="translate(247.90,276.74) rotate(-90) scale(0.8682,1)" font-size="28" fill="#111" letter-spacing="1.943"><tspan>AlTa</tspan><tspan dy="9.24" font-size="16.80">3</tspan><tspan dy="-9.24">(210)</tspan></text>
<text transform="translate(275.50,300.24) rotate(-90) scale(0.8689,1)" font-size="28" fill="#111" letter-spacing="1.943"><tspan>AlTa</tspan><tspan dy="9.24" font-size="16.80">3</tspan><tspan dy="-9.24">(111)</tspan></text>
<text transform="translate(374.70,215.07) rotate(-90) scale(0.8709,1)" font-size="28" fill="#111" letter-spacing="1.827"><tspan>(TiTa)</tspan><tspan dy="9.24" font-size="16.80">4</tspan><tspan dy="-9.24">AlC</tspan><tspan dy="9.24" font-size="16.80">3</tspan><tspan dy="-9.24">(004)</tspan></text>
<text transform="translate(474.50,300.37) rotate(-90) scale(0.8440,1)" font-size="28" fill="#111" letter-spacing="2.179"><tspan>TaC(111)</tspan></text>
<text transform="translate(505.10,253.81) rotate(-90) scale(0.9005,1)" font-size="28" fill="#111" letter-spacing="1.832"><tspan>(TiTa)</tspan><tspan dy="9.24" font-size="16.80">4</tspan><tspan dy="-9.24">AlC</tspan><tspan dy="9.24" font-size="16.80">3</tspan><tspan dy="-9.24">(0010)</tspan></text>
<text transform="translate(549.50,303.59) rotate(-90) scale(0.8811,1)" font-size="28" fill="#111" letter-spacing="1.944"><tspan>Ti</tspan><tspan dy="9.24" font-size="16.80">2</tspan><tspan dy="-9.24">C(200)</tspan></text>
<text transform="translate(591.40,262.17) rotate(-90) scale(0.8382,1)" font-size="28" fill="#111" letter-spacing="2.083"><tspan>Ta(101)</tspan></text>
<text transform="translate(621.00,312.07) rotate(-90) scale(0.8722,1)" font-size="28" fill="#111" letter-spacing="1.827"><tspan>(TiTa)</tspan><tspan dy="9.24" font-size="16.80">4</tspan><tspan dy="-9.24">AlC</tspan><tspan dy="9.24" font-size="16.80">3</tspan><tspan dy="-9.24">(106)</tspan></text>
<text transform="translate(746.50,311.58) rotate(-90) scale(0.8685,1)" font-size="28" fill="#111" letter-spacing="2.050"><tspan>Ta</tspan><tspan dy="9.24" font-size="16.80">2</tspan><tspan dy="-9.24">C(003)</tspan></text>
<text transform="translate(807.00,306.06) rotate(-90) scale(0.8637,1)" font-size="28" fill="#111" letter-spacing="1.832"><tspan>(TiTa)</tspan><tspan dy="9.24" font-size="16.80">4</tspan><tspan dy="-9.24">AlC</tspan><tspan dy="9.24" font-size="16.80">3</tspan><tspan dy="-9.24">(1012)</tspan></text>
<text transform="translate(870.70,308.18) rotate(-90) scale(0.8662,1)" font-size="28" fill="#111" letter-spacing="1.971"><tspan>TiO</tspan><tspan dy="9.24" font-size="16.80">2</tspan><tspan dy="-9.24">(006)</tspan></text>
<text transform="translate(906.50,296.57) rotate(-90) scale(0.8695,1)" font-size="28" fill="#111" letter-spacing="1.827"><tspan>(TiTa)</tspan><tspan dy="9.24" font-size="16.80">4</tspan><tspan dy="-9.24">AlC</tspan><tspan dy="9.24" font-size="16.80">3</tspan><tspan dy="-9.24">(210)</tspan></text>
<text transform="translate(376.90,519.37) rotate(-90) scale(0.8673,1)" font-size="28" fill="#111" letter-spacing="1.815"><tspan>(TiTa)</tspan><tspan dy="9.24" font-size="16.80">4</tspan><tspan dy="-9.24">C</tspan><tspan dy="9.24" font-size="16.80">3</tspan><tspan dy="-9.24">(004)</tspan></text>
<text transform="translate(477.30,632.18) rotate(-90) scale(0.8582,1)" font-size="28" fill="#111" letter-spacing="2.179"><tspan>TaC(111)</tspan></text>
<text transform="translate(508.90,569.09) rotate(-90) scale(0.8895,1)" font-size="28" fill="#111" letter-spacing="1.821"><tspan>(TiTa)</tspan><tspan dy="9.24" font-size="16.80">4</tspan><tspan dy="-9.24">C</tspan><tspan dy="9.24" font-size="16.80">3</tspan><tspan dy="-9.24">(0010)</tspan></text>
<text transform="translate(572.90,646.78) rotate(-90) scale(0.8727,1)" font-size="28" fill="#111" letter-spacing="2.083"><tspan>Ta(101)</tspan></text>
<text transform="translate(603.20,580.06) rotate(-90) scale(0.8597,1)" font-size="28" fill="#111" letter-spacing="1.815"><tspan>(TiTa)</tspan><tspan dy="9.24" font-size="16.80">4</tspan><tspan dy="-9.24">C</tspan><tspan dy="9.24" font-size="16.80">3</tspan><tspan dy="-9.24">(106)</tspan></text>
<text transform="translate(806.90,653.59) rotate(-90) scale(0.8852,1)" font-size="28" fill="#111" letter-spacing="1.821"><tspan>(TiTa)</tspan><tspan dy="9.24" font-size="16.80">4</tspan><tspan dy="-9.24">C</tspan><tspan dy="9.24" font-size="16.80">3</tspan><tspan dy="-9.24">(1012)</tspan></text>
<text transform="translate(866.30,654.65) rotate(-90) scale(0.8994,1)" font-size="25" fill="#111" letter-spacing="1.760"><tspan>TiO</tspan><tspan dy="8.25" font-size="15.00">2</tspan><tspan dy="-8.25">(006)</tspan></text>
<text transform="translate(902.30,627.09) rotate(-90) scale(0.8852,1)" font-size="28" fill="#111" letter-spacing="1.815"><tspan>(TiTa)</tspan><tspan dy="9.24" font-size="16.80">4</tspan><tspan dy="-9.24">C</tspan><tspan dy="9.24" font-size="16.80">3</tspan><tspan dy="-9.24">(210)</tspan></text>
</svg>
</body></html>
